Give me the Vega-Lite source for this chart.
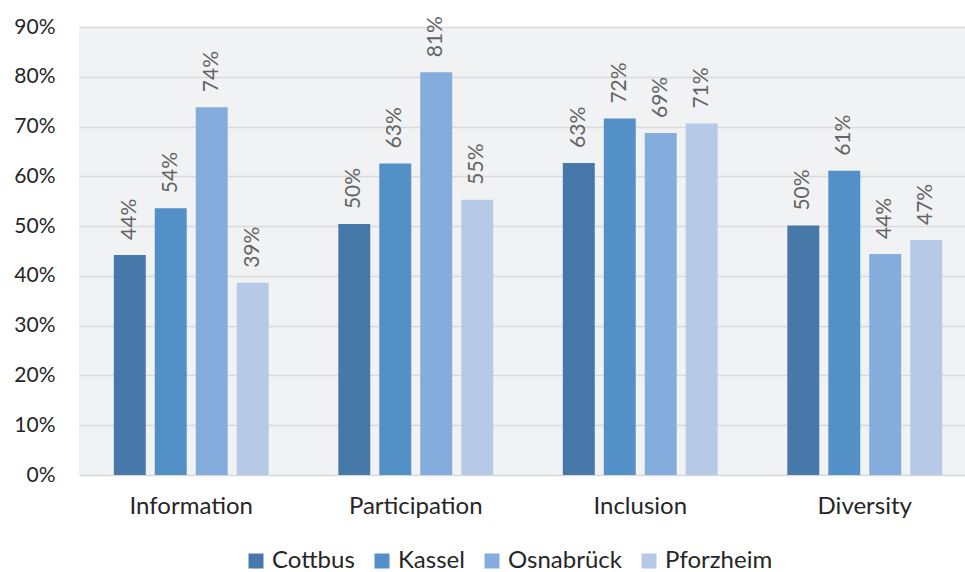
{
  "$schema": "https://vega.github.io/schema/vega-lite/v6.json",
  "width": 886,
  "height": 448,
  "autosize": {"type": "none"},
  "padding": {"left": 79, "top": 27, "right": 0, "bottom": 97},
  "background": "white",
  "config": {"view": {"fill": "#f1f2f4", "stroke": null}, "font": "Lato"},
  "data": {"values": [
    {"category": "Information", "city": "Cottbus", "value": 0.442},
    {"category": "Information", "city": "Kassel", "value": 0.536},
    {"category": "Information", "city": "Osnabrück", "value": 0.739},
    {"category": "Information", "city": "Pforzheim", "value": 0.386},
    {"category": "Participation", "city": "Cottbus", "value": 0.504},
    {"category": "Participation", "city": "Kassel", "value": 0.626},
    {"category": "Participation", "city": "Osnabrück", "value": 0.809},
    {"category": "Participation", "city": "Pforzheim", "value": 0.553},
    {"category": "Inclusion", "city": "Cottbus", "value": 0.627},
    {"category": "Inclusion", "city": "Kassel", "value": 0.716},
    {"category": "Inclusion", "city": "Osnabrück", "value": 0.687},
    {"category": "Inclusion", "city": "Pforzheim", "value": 0.706},
    {"category": "Diversity", "city": "Cottbus", "value": 0.501},
    {"category": "Diversity", "city": "Kassel", "value": 0.611},
    {"category": "Diversity", "city": "Osnabrück", "value": 0.444},
    {"category": "Diversity", "city": "Pforzheim", "value": 0.472}
  ]},
  "encoding": {
    "x": {
      "field": "category", "type": "nominal",
      "sort": ["Information", "Participation", "Inclusion", "Diversity"],
      "scale": {"range": [0, 898], "paddingInner": 0.27, "paddingOuter": 0.135},
      "axis": {"title": null, "domain": false, "ticks": false, "labelAngle": 0, "labelFontSize": 24, "labelColor": "#262626", "labelPadding": 19}
    },
    "xOffset": {
      "field": "city", "type": "nominal",
      "sort": ["Cottbus", "Kassel", "Osnabrück", "Pforzheim"],
      "scale": {"paddingInner": 0.22, "paddingOuter": 0.11}
    },
    "y": {
      "field": "value", "type": "quantitative",
      "scale": {"domain": [0, 0.9], "nice": false},
      "axis": {"title": null, "domain": false, "ticks": false, "grid": true, "gridColor": "#d9d9d9", "gridWidth": 1.5,
               "values": [0, 0.1, 0.2, 0.3, 0.4, 0.5, 0.6, 0.7, 0.8, 0.9], "format": ".0%",
               "labelFontSize": 21, "labelColor": "#262626", "labelPadding": 24}
    }
  },
  "layer": [
    {
      "mark": {"type": "bar"},
      "encoding": {
        "color": {
          "field": "city", "type": "nominal",
          "sort": ["Cottbus", "Kassel", "Osnabrück", "Pforzheim"],
          "scale": {"domain": ["Cottbus", "Kassel", "Osnabrück", "Pforzheim"], "range": ["#4679a9", "#5490c8", "#84acdc", "#b6c9e6"]},
          "legend": {"title": null, "orient": "none", "legendX": 165, "legendY": 522, "direction": "horizontal", "columns": 4,
                     "symbolType": "square", "symbolSize": 225, "symbolStrokeWidth": 0, "labelFontSize": 24, "labelColor": "#262626",
                     "labelOffset": 4, "columnPadding": 15}
        }
      }
    },
    {
      "mark": {"type": "text", "angle": 270, "align": "left", "baseline": "middle", "dx": 15, "fontSize": 21, "color": "#636363"},
      "encoding": {"text": {"field": "value", "type": "quantitative", "format": ".0%"}}
    }
  ]
}
